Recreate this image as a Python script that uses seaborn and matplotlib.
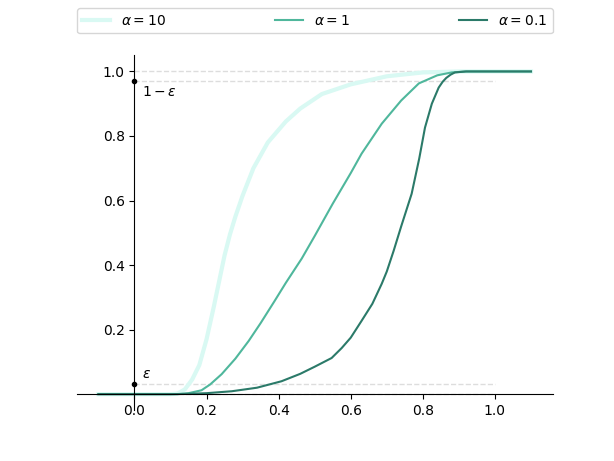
import numpy as np
import pandas as pd
import matplotlib
matplotlib.use("Agg")
import matplotlib.pyplot as plt
import seaborn as sns

# ---- data ----
labels = [r"$\alpha = 10$", r"$\alpha = 1$", r"$\alpha = 0.1$"]

x_a10 = [-0.1, 0.0, 0.1, 0.12, 0.14, 0.16, 0.18, 0.2, 0.22, 0.235, 0.25, 0.265, 0.28,
         0.3, 0.33, 0.37, 0.42, 0.46, 0.52, 0.6, 0.7, 0.8, 0.9, 1.0, 1.1]
y_a10 = [0.0, 0.0, 0.0, 0.002, 0.015, 0.045, 0.09, 0.17, 0.27, 0.35, 0.43, 0.495, 0.55,
         0.615, 0.70, 0.78, 0.845, 0.885, 0.93, 0.96, 0.985, 0.997, 1.0, 1.0, 1.0]

x_a1 = [-0.1, 0.0, 0.1, 0.12, 0.15, 0.186, 0.21, 0.242, 0.28, 0.317, 0.35, 0.389,
        0.42, 0.464, 0.5, 0.55, 0.6, 0.63, 0.686, 0.74, 0.789, 0.84, 0.88, 0.92,
        1.0, 1.1]
y_a1 = [0.0, 0.0, 0.0, 0.0, 0.003, 0.012, 0.03, 0.062, 0.11, 0.165, 0.22, 0.289,
        0.345, 0.42, 0.49, 0.59, 0.685, 0.745, 0.838, 0.91, 0.963, 0.988, 0.997, 1.0,
        1.0, 1.0]

x_a01 = [-0.1, 0.0, 0.1, 0.15, 0.2, 0.27, 0.34, 0.408, 0.46, 0.5, 0.547, 0.575,
         0.6, 0.63, 0.66, 0.686, 0.7, 0.719, 0.74, 0.769, 0.79, 0.806, 0.825,
         0.844, 0.855, 0.865, 0.877, 0.889, 0.92, 1.0, 1.1]
y_a01 = [0.0, 0.0, 0.0, 0.001, 0.003, 0.009, 0.02, 0.04, 0.063, 0.085, 0.112, 0.143,
         0.175, 0.227, 0.28, 0.342, 0.38, 0.444, 0.52, 0.621, 0.73, 0.826, 0.9,
         0.95, 0.968, 0.98, 0.99, 0.997, 1.0, 1.0, 1.0]

eps = 0.03
ref_levels = [0.0, eps, 1 - eps, 1.0]
xticks = [0.0, 0.2, 0.4, 0.6, 0.8, 1.0]
yticks = [0.2, 0.4, 0.6, 0.8, 1.0]

colors = ["#d9f9f3", "#4fb79c", "#2b7a69"]
widths = [3.0, 1.5, 1.5]

fig, ax = plt.subplots(figsize=(6.14, 4.61), dpi=100)

# dashed reference lines
for lv in ref_levels:
    ax.plot([0, 1], [lv, lv], ls="--", color="#dddddd", lw=1.0, zorder=1)

series = [(x_a10, y_a10), (x_a1, y_a1), (x_a01, y_a01)]
for (xs, ys), lab, c, w in zip(series, labels, colors, widths):
    df = pd.DataFrame({"x": xs, "y": ys})
    sns.lineplot(data=df, x="x", y="y", ax=ax, color=c, lw=w, label=lab, zorder=2)

# epsilon markers
ax.plot([0, 0], [eps, 1 - eps], "o", color="black", ms=3, zorder=4)
ax.text(0.02, eps + 0.012, r"$\varepsilon$", fontsize=10, va="bottom", ha="left")
ax.text(0.02, 1 - eps - 0.012, r"$1-\varepsilon$", fontsize=10, va="top", ha="left")

# spines through the origin
ax.spines["left"].set_position(("data", 0))
ax.spines["bottom"].set_position(("data", 0))
ax.spines["top"].set_visible(False)
ax.spines["right"].set_visible(False)
ax.set_xticks(xticks)
ax.set_yticks(yticks)
ax.set_xlabel("")
ax.set_ylabel("")
ax.set_xlim(-0.16, 1.16)
ax.set_ylim(-0.05, 1.05)

ax.legend(ncol=3, mode="expand", loc="lower left",
          bbox_to_anchor=(0, 1.062, 1, 0.1), borderaxespad=0, fontsize=10)

fig.savefig("out.png", dpi=100)
